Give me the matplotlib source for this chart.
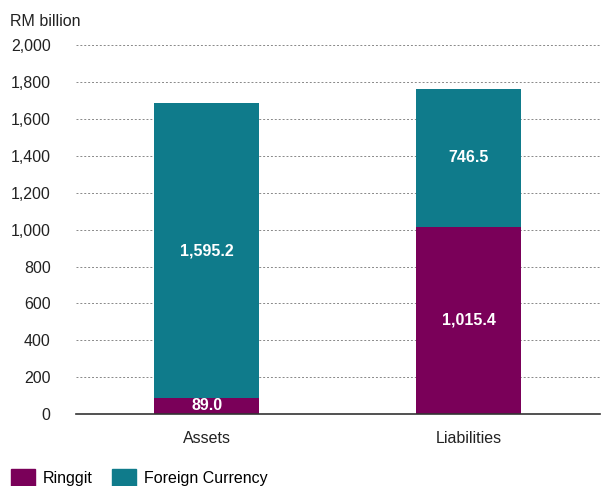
import numpy as np
from matplotlib import pyplot as plt
from matplotlib.patches import Patch

categories = ['Assets', 'Liabilities']
ringgit = [89.0, 1015.4]
foreign = [1595.2, 746.5]
yticks = [0, 200, 400, 600, 800, 1000, 1200, 1400, 1600, 1800, 2000]

PURPLE = '#7a0059'
TEAL = '#0f7b8b'

plt.rcParams['font.family'] = ['Liberation Sans', 'DejaVu Sans']

fig = plt.figure(figsize=(6.01, 4.86), dpi=100)
ax = fig.add_axes([0.126, 0.148, 0.872, 0.759])

x = np.arange(len(categories))
width = 0.4

r1 = ax.bar(x, ringgit, width, color=PURPLE, zorder=3)
r2 = ax.bar(x, foreign, width, bottom=ringgit, color=TEAL, zorder=3)

for rects, vals in ((r1, ringgit), (r2, foreign)):
    ax.bar_label(rects, labels=[f'{v:,.1f}' for v in vals], label_type='center',
                 color='white', fontsize=11.5, fontweight='bold')

ax.set_xlim(-0.5, 1.5)
ax.set_ylim(0, 2000)
ax.set_yticks(yticks, [f'{t:,}' for t in yticks])
ax.set_xticks(x, categories)
ax.tick_params(axis='y', length=0, pad=18, labelsize=11.5, colors='#222222')
ax.tick_params(axis='x', length=0, pad=12, labelsize=11.5, colors='#222222')

ax.grid(axis='y', linestyle=(0, (2, 2)), color='#888888', linewidth=0.7, zorder=0)
for s in ['top', 'right', 'left']:
    ax.spines[s].set_visible(False)
ax.spines['bottom'].set_color('#333333')
ax.spines['bottom'].set_linewidth(1.2)
ax.spines['bottom'].set_zorder(4)

fig.text(10 / 601, 1 - 22 / 486, 'RM billion', fontsize=11.5, color='#222222',
         ha='left', va='center')

handles = [Patch(color=PURPLE, label='Ringgit'), Patch(color=TEAL, label='Foreign Currency')]
fig.legend(handles=handles, loc='lower left', bbox_to_anchor=(0.0, -0.025), ncols=2,
           frameon=False, fontsize=11.5, handlelength=1.5, handleheight=1.4,
           handletextpad=0.5, columnspacing=1.2, borderaxespad=0.3)

fig.savefig('out.png', dpi=100)
